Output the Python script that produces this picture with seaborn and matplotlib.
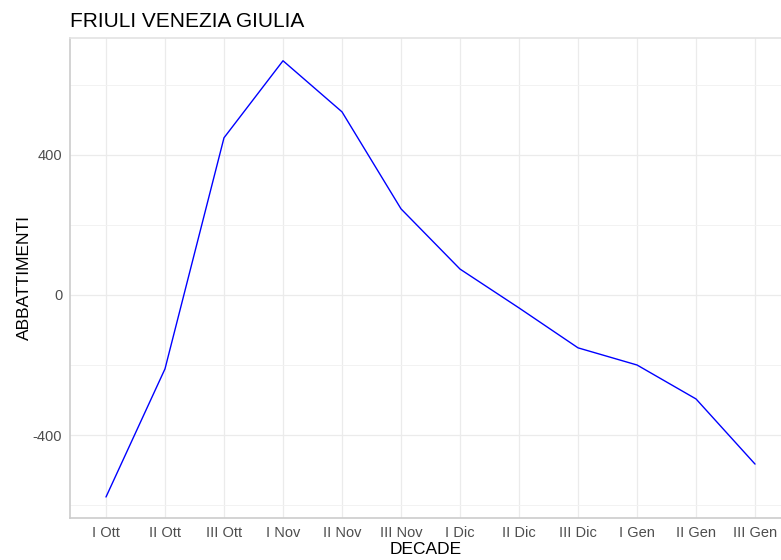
import pandas as pd
import matplotlib.pyplot as plt
import seaborn as sns

# decadi e abbattimenti
decadi = ['I Ott', 'II Ott', 'III Ott', 'I Nov', 'II Nov', 'III Nov',
          'I Dic', 'II Dic', 'III Dic', 'I Gen', 'II Gen', 'III Gen']
abbattimenti = [-577, -211, 449, 669, 523, 246, 74, -37, -151, -200, -297, -483]

df = pd.DataFrame({'DECADE': decadi, 'ABBATTIMENTI': abbattimenti})
df['pos'] = range(len(df))

sns.set_theme(style='white')
plt.rcParams['font.family'] = ['Liberation Sans', 'DejaVu Sans']
plt.rcParams['axes.unicode_minus'] = False

fig = plt.figure(figsize=(7.81, 5.6), dpi=100)
ax = fig.add_axes([70 / 781, 42 / 560, 711 / 781, 480 / 560])

sns.lineplot(data=df, x='pos', y='ABBATTIMENTI', color='#0000ff', linewidth=1.0, ax=ax)

ax.set_xlim(-0.61, 11.44)
ax.set_ylim(-637, 734)
ax.set_xticks(df['pos'])
ax.set_xticklabels(decadi)
ax.set_yticks([-400, 0, 400])
ax.set_yticks([-600, -200, 200, 600], minor=True)

ax.grid(True, which='major', color='#ebebeb', linewidth=0.9)
ax.grid(True, which='minor', axis='y', color='#f2f2f2', linewidth=0.7)
ax.set_axisbelow(True)

for side in ['left', 'bottom']:
    ax.spines[side].set_color('#cccccc')
    ax.spines[side].set_linewidth(1.2)
ax.spines['top'].set_color('#e3e3e3')
ax.spines['top'].set_linewidth(1.2)
ax.spines['right'].set_visible(False)

ax.tick_params(axis='both', which='major', colors='#cccccc', length=3, width=0.8,
               labelcolor='#4d4d4d', labelsize=10.5, pad=2.5)
ax.tick_params(axis='y', which='minor', length=0)

ax.set_xlabel('DECADE', fontsize=12.5, color='black', labelpad=2)
ax.set_ylabel('ABBATTIMENTI', fontsize=12.5, color='black', labelpad=1)
ax.set_title('FRIULI VENEZIA GIULIA', fontsize=15, loc='left', x=0.0, pad=8,
             color='black')

fig.savefig('out.png', dpi=100)
